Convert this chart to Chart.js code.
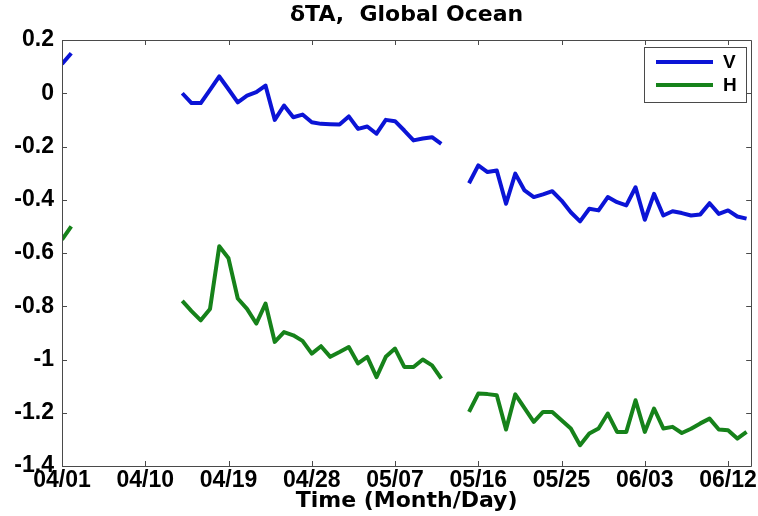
<!DOCTYPE html>
<html>
<head>
<meta charset="utf-8">
<script src="https://cdn.jsdelivr.net/npm/chart.js@4.4.1/dist/chart.umd.min.js"></script>
<style>
  body { margin: 0; background: #fff; }
  #wrap { width: 758px; height: 516px; }
</style>
</head>
<body>
<div id="wrap"><canvas id="c" width="758" height="516"></canvas></div>
<script>
// days since 04/01
const days = [0, 1, 2, 3, 4, 5, 6, 7, 8, 9, 10, 11, 12, 13, 14, 15, 16, 17, 18, 19,
    20, 21, 22, 23, 24, 25, 26, 27, 28, 29, 30, 31, 32, 33, 34, 35, 36, 37, 38, 39,
    40, 41, 42, 43, 44, 45, 46, 47, 48, 49, 50, 51, 52, 53, 54, 55, 56, 57, 58, 59,
    60, 61, 62, 63, 64, 65, 66, 67, 68, 69, 70, 71, 72, 73, 74];

const seriesV = [0.11, 0.15, null, null, null, null, null, null, null, null, null, null, null,
    0.00, -0.037, -0.037, 0.013, 0.063, 0.015, -0.034, -0.009, 0.004, 0.029,
    -0.10, -0.046, -0.09, -0.08, -0.109, -0.115, -0.116, -0.117, -0.087, -0.134,
    -0.125, -0.152, -0.10, -0.105, -0.14, -0.177, -0.17, -0.165, -0.19,
    null, null,
    -0.338, -0.271, -0.296, -0.29, -0.415, -0.302, -0.365, -0.39, -0.38, -0.368,
    -0.403, -0.447, -0.481, -0.434, -0.44, -0.39, -0.409, -0.421, -0.353, -0.475,
    -0.378, -0.459, -0.443, -0.45, -0.459, -0.455, -0.413, -0.453, -0.44, -0.463, -0.471];

const seriesH = [-0.55, -0.50, null, null, null, null, null, null, null, null, null, null, null,
    -0.78, -0.818, -0.853, -0.81, -0.575, -0.62, -0.771, -0.81, -0.865, -0.79,
    -0.934, -0.897, -0.909, -0.93, -0.978, -0.95, -0.99, -0.972, -0.953, -1.015,
    -0.99, -1.066, -0.99, -0.959, -1.028, -1.028, -1.0, -1.022, -1.072,
    null, null,
    -1.197, -1.128, -1.13, -1.134, -1.263, -1.131, -1.183, -1.234, -1.197, -1.197,
    -1.228, -1.259, -1.322, -1.278, -1.259, -1.203, -1.272, -1.272, -1.153, -1.272,
    -1.184, -1.259, -1.253, -1.276, -1.26, -1.24, -1.222, -1.263, -1.266, -1.297, -1.272];

const xTickDays = [0, 9, 18, 27, 36, 45, 54, 63, 72];
const yTickValues = [0.2, 0, -0.2, -0.4, -0.6, -0.8, -1, -1.2, -1.4];
const titleText = 'δTA,  Global Ocean';
const xTitleText = 'Time (Month/Day)';

const tickFont = { family: '"Liberation Sans", Arial, sans-serif', size: 23, weight: 'bold' };

function dayLabel(d) {
    const dt = new Date(Date.UTC(2013, 3, 1 + d));
    return String(dt.getUTCMonth() + 1).padStart(2, '0') + '/' + String(dt.getUTCDate()).padStart(2, '0');
}

function toPoints(vals) {
    return days.map((d, i) => ({ x: d, y: vals[i] }));
}

// axes box with inward ticks, title and legend drawn like matlab
const matlabFrame = {
    id: 'matlabFrame',
    afterDraw(chart) {
        const ctx = chart.ctx;
        const a = chart.chartArea;
        const xs = chart.scales.x, ys = chart.scales.y;
        const tl = 5;
        ctx.save();
        ctx.strokeStyle = '#4a4a4a';
        ctx.lineWidth = 1;
        ctx.beginPath();
        ctx.rect(Math.round(a.left) + 0.5, Math.round(a.top) + 0.5,
            Math.round(a.right - a.left), Math.round(a.bottom - a.top));
        xTickDays.forEach(d => {
            const px = Math.round(xs.getPixelForValue(d)) + 0.5;
            ctx.moveTo(px, a.bottom); ctx.lineTo(px, a.bottom - tl);
            ctx.moveTo(px, a.top); ctx.lineTo(px, a.top + tl);
        });
        yTickValues.forEach(v => {
            const py = Math.round(ys.getPixelForValue(v)) + 0.5;
            ctx.moveTo(a.left, py); ctx.lineTo(a.left + tl, py);
            ctx.moveTo(a.right, py); ctx.lineTo(a.right - tl, py);
        });
        ctx.stroke();

        // title
        ctx.fillStyle = '#000';
        ctx.font = 'bold 22px "DejaVu Sans", sans-serif';
        ctx.textAlign = 'center';
        ctx.textBaseline = 'middle';
        ctx.fillText(titleText, (a.left + a.right) / 2, 15);

        // legend
        const bx = 644.5, by = 47.5, bw = 102, bh = 55;
        ctx.fillStyle = '#fff';
        ctx.fillRect(bx, by, bw, bh);
        ctx.strokeStyle = '#4a4a4a';
        ctx.strokeRect(bx, by, bw, bh);
        ctx.font = 'bold 19px "Liberation Sans", Arial, sans-serif';
        ctx.textAlign = 'left';
        chart.data.datasets.forEach((ds, i) => {
            const ly = 62 + i * 23;
            ctx.strokeStyle = ds.borderColor;
            ctx.lineWidth = 4;
            ctx.beginPath();
            ctx.moveTo(656, ly); ctx.lineTo(713, ly);
            ctx.stroke();
            ctx.fillStyle = '#000';
            ctx.fillText(ds.label, 723, ly + 1);
        });
        ctx.restore();
    }
};

new Chart(document.getElementById('c'), {
    type: 'line',
    data: {
        datasets: [{
            label: 'V',
            data: toPoints(seriesV),
            borderColor: '#0b14d6',
            borderWidth: 4,
            pointRadius: 0,
            tension: 0,
            borderJoinStyle: 'round',
            spanGaps: false
        }, {
            label: 'H',
            data: toPoints(seriesH),
            borderColor: '#16821a',
            borderWidth: 4,
            pointRadius: 0,
            tension: 0,
            borderJoinStyle: 'round',
            spanGaps: false
        }]
    },
    options: {
        responsive: false,
        animation: false,
        layout: { padding: { top: 40, right: 5, left: 0, bottom: 0 } },
        plugins: {
            legend: { display: false },
            title: { display: false },
            tooltip: { enabled: false }
        },
        scales: {
            x: {
                type: 'linear',
                min: 0,
                max: 74.5,
                afterBuildTicks: s => { s.ticks = xTickDays.map(v => ({ value: v })); },
                afterFit: s => { s.height = 50; },
                grid: { display: false, drawTicks: false },
                border: { display: false },
                ticks: {
                    color: '#000',
                    font: tickFont,
                    padding: 1,
                    maxRotation: 0,
                    autoSkip: false,
                    callback: v => dayLabel(v)
                },
                title: {
                    display: true,
                    text: xTitleText,
                    color: '#000',
                    font: { family: '"DejaVu Sans", sans-serif', size: 22, weight: 'bold' },
                    padding: { top: 0, bottom: 2 }
                }
            },
            y: {
                min: -1.4,
                max: 0.2,
                afterBuildTicks: s => { s.ticks = yTickValues.map(v => ({ value: v })); },
                afterFit: s => { s.width = 62; },
                grid: { display: false, drawTicks: false },
                border: { display: false },
                ticks: {
                    color: '#000',
                    font: tickFont,
                    padding: 8,
                    autoSkip: false,
                    callback: v => String(Number(v.toFixed(1)))
                }
            }
        }
    },
    plugins: [matlabFrame]
});
</script>
</body>
</html>
